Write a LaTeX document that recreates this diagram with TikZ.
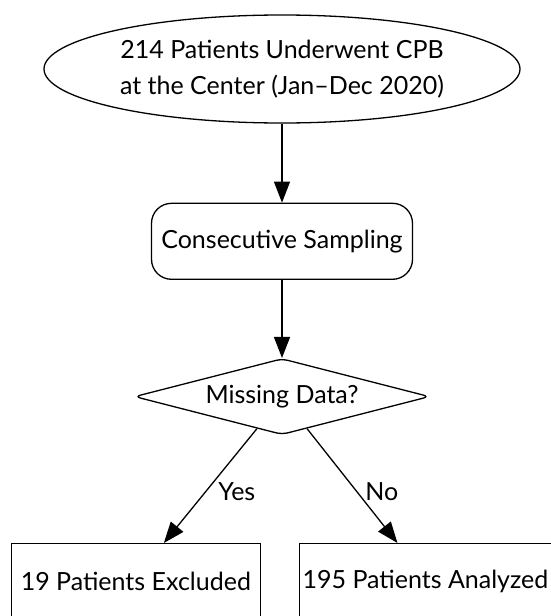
\documentclass[tikz,border=0pt]{standalone}
\usepackage{fontspec}
\setmainfont{Lato}
\usepackage{tikz}
\usetikzlibrary{positioning,arrows.meta,shapes.geometric}

\begin{document}
\begin{tikzpicture}[font=\fontsize{25pt}{36pt}\selectfont, line width=1.3pt,
		term/.style={draw, ellipse, minimum width=476pt, minimum height=108pt, inner sep=0pt, align=center},
		proc/.style={draw, rounded corners=20pt, minimum width=261pt, minimum height=76pt},
		dec/.style={draw, diamond, aspect=4.3, rounded corners=6pt, minimum width=295pt, minimum height=76pt, inner sep=0pt},
		res/.style={draw, minimum width=249pt, minimum height=76pt, inner sep=3pt},
		arr/.style={-{Triangle[length=21pt,width=16pt]}}]
		\useasboundingbox (0,0) rectangle (551pt,-616pt);
		\node[term] (cohort) at (282pt,-69pt) {214 Patients Underwent CPB\\at the Center (Jan--Dec 2020)};
		\node[proc, below=79pt of cohort] (sampling) {Consecutive Sampling};
		\node[dec, below=78pt of sampling] (missing) {Missing Data?};
		\node[res, anchor=north east] (excluded) at (261pt,-543pt) {19 Patients Excluded};
		\node[res, anchor=north west] (analyzed) at (299pt,-543pt) {195 Patients Analyzed};
		\draw[arr] (cohort) -- (sampling);
		\draw[arr] (sampling) -- (missing);
		\draw[arr] (missing.232) -- node[pos=0.55, right=12pt, inner sep=0pt] {Yes} ([xshift=28pt]excluded.north);
		\draw[arr] (missing.308) -- node[pos=0.55, right=8pt, inner sep=0pt] {No} ([xshift=-28pt]analyzed.north);
	\end{tikzpicture}
\end{document}
